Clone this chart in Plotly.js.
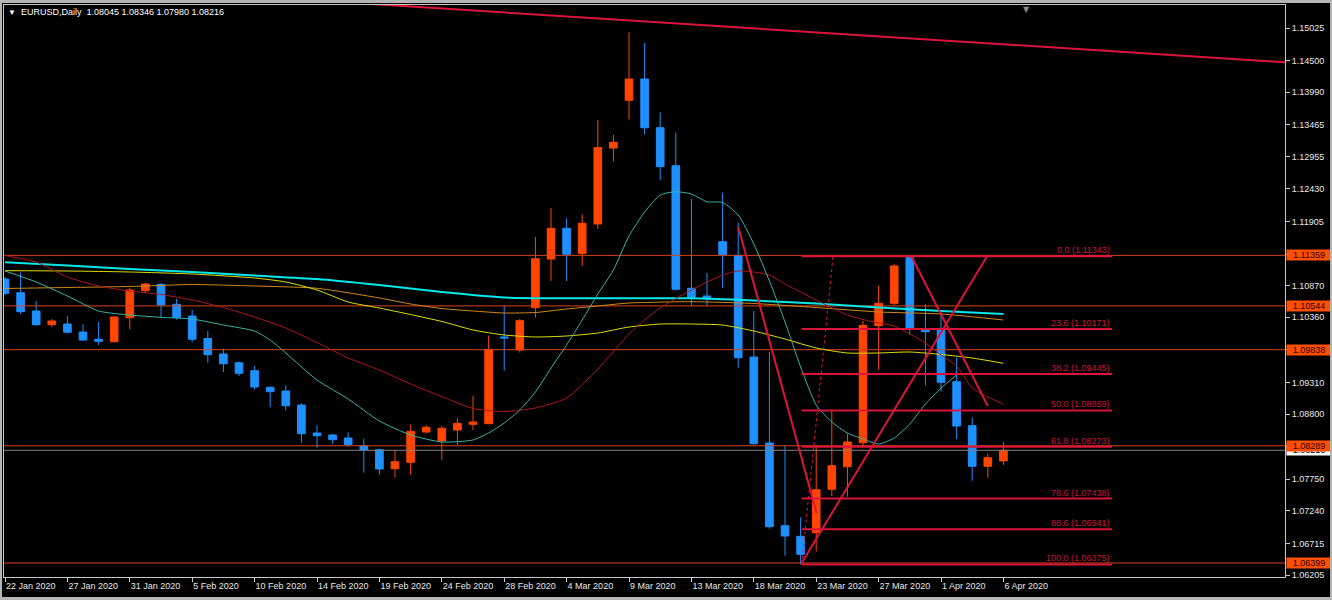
<!DOCTYPE html>
<html>
<head>
<meta charset="utf-8">
<script src="https://cdn.plot.ly/plotly-3.0.1.min.js"></script>
<style>
  html, body { margin:0; padding:0; background:#000; }
  #wrap { position:relative; width:1332px; height:600px; }
  #chart { width:1332px; height:600px; }
  #frame { position:absolute; left:0; top:0; width:1332px; height:600px; box-sizing:border-box;
           border-style:solid; border-color:#b4b4b4; border-width:3px 2px 3px 2px; pointer-events:none; }
</style>
</head>
<body>
<div id="wrap"><div id="chart"></div><div id="frame"></div></div>
<script>
// ---- Data (EURUSD Daily) ----
const symbolName = 'EURUSD,Daily';
const dates = ['22 Jan 2020','23 Jan 2020','24 Jan 2020','26 Jan 2020','27 Jan 2020','28 Jan 2020','29 Jan 2020','30 Jan 2020','31 Jan 2020','2 Feb 2020',
 '3 Feb 2020','4 Feb 2020','5 Feb 2020','6 Feb 2020','7 Feb 2020','9 Feb 2020','10 Feb 2020','11 Feb 2020','12 Feb 2020','13 Feb 2020',
 '14 Feb 2020','16 Feb 2020','17 Feb 2020','18 Feb 2020','19 Feb 2020','20 Feb 2020','21 Feb 2020','23 Feb 2020','24 Feb 2020','25 Feb 2020',
 '26 Feb 2020','27 Feb 2020','28 Feb 2020','1 Mar 2020','2 Mar 2020','3 Mar 2020','4 Mar 2020','5 Mar 2020','6 Mar 2020','8 Mar 2020',
 '9 Mar 2020','10 Mar 2020','11 Mar 2020','12 Mar 2020','13 Mar 2020','15 Mar 2020','16 Mar 2020','17 Mar 2020','18 Mar 2020','19 Mar 2020',
 '20 Mar 2020','22 Mar 2020','23 Mar 2020','24 Mar 2020','25 Mar 2020','26 Mar 2020','27 Mar 2020','29 Mar 2020','30 Mar 2020','31 Mar 2020',
 '1 Apr 2020','2 Apr 2020','3 Apr 2020','5 Apr 2020','6 Apr 2020'];
const openP = [
 1.10978,1.10757,1.10462,1.10241,1.10252,1.10123,1.10006,1.09967,1.10354,1.10789,
 1.10892,1.10570,1.10381,1.10019,1.09769,1.09628,1.09499,1.09232,1.09172,1.08946,
 1.08495,1.08463,1.08414,1.08290,1.08226,1.07919,1.08022,1.08511,1.08366,1.08543,
 1.08635,1.08645,1.10043,1.09833,1.10515,1.11300,1.11795,1.11389,1.11865,1.13090,
 1.13859,1.14203,1.13417,1.12805,1.10828,1.10704,1.11579,1.11360,1.09720,1.08334,
 1.07000,1.06829,1.06887,1.07587,1.07951,1.08338,1.10225,1.10586,1.11330,1.10167,
 1.10156,1.09322,1.08613,1.07958,1.08045];
const highP = [
 1.11010,1.11086,1.10623,1.10333,1.10381,1.10252,1.10289,1.10381,1.10838,1.10918,
 1.10909,1.10660,1.10478,1.10139,1.09854,1.09651,1.09575,1.09248,1.09264,1.08974,
 1.08619,1.08474,1.08506,1.08403,1.08242,1.08216,1.08635,1.08624,1.08613,1.08732,
 1.09091,1.10064,1.10543,1.10333,1.11655,1.12123,1.11957,1.12021,1.13542,1.13300,
 1.14956,1.14783,1.13666,1.13337,1.12268,1.11075,1.12369,1.11886,1.10462,1.09806,
 1.08290,1.07136,1.08290,1.08866,1.08490,1.10301,1.10870,1.11220,1.11343,1.10570,
 1.10478,1.09715,1.08742,1.08161,1.08346];
const lowP = [
 1.10720,1.10409,1.10225,1.10199,1.10102,1.09978,1.09914,1.09957,1.10167,1.10747,
 1.10365,1.10325,1.09957,1.09628,1.09478,1.09414,1.09193,1.08909,1.08861,1.08338,
 1.08258,1.08322,1.08274,1.07855,1.07822,1.07781,1.07822,1.08487,1.08059,1.08301,
 1.08543,1.08635,1.09499,1.09790,1.10354,1.10946,1.10946,1.11188,1.11784,1.12869,
 1.13553,1.13311,1.12574,1.10792,1.10547,1.10547,1.10838,1.09548,1.08309,1.06952,
 1.06516,1.06375,1.06584,1.07479,1.07468,1.08264,1.09515,1.10559,1.10075,1.09257,
 1.09161,1.08398,1.07726,1.07774,1.07980];
const closeP = [
 1.10747,1.10451,1.10241,1.10301,1.10119,1.09994,1.09973,1.10365,1.10801,1.10897,
 1.10559,1.10360,1.10006,1.09757,1.09612,1.09457,1.09236,1.09161,1.08935,1.08484,
 1.08451,1.08387,1.08306,1.08221,1.07914,1.08032,1.08522,1.08587,1.08571,1.08651,
 1.08672,1.09844,1.10027,1.10306,1.11305,1.11795,1.11376,1.11876,1.13098,1.13182,
 1.14203,1.13417,1.12789,1.10812,1.10683,1.10676,1.11370,1.09709,1.08322,1.06984,
 1.06834,1.06539,1.07580,1.07968,1.08350,1.10231,1.10586,1.11188,1.10183,1.10128,
 1.09312,1.08608,1.07958,1.08097,1.08216];

// Moving averages (bar index, price)
const maTealX = [0,2,4,6,8,10,12,14,16,17,18,20,22,24,26,28,30,31,32,33,34,35,36,37,38,39,40,41,42,43,44,45,46,47,48,49,50,51,52,53,54,55,56,57,58,59,60,61];
const maTealY = [1.11107,1.10930,1.10704,1.10462,1.10397,1.10360,1.10333,1.10236,1.10139,1.09994,1.09785,1.09349,1.09043,1.08688,1.08463,1.08350,1.08382,
 1.08495,1.08656,1.08866,1.09156,1.09543,1.09914,1.10317,1.10736,1.11123,1.11671,1.12058,1.12332,1.12386,1.12348,1.12224,1.12211,1.12010,1.11542,1.10946,1.10285,
 1.09559,1.08946,1.08672,1.08495,1.08398,1.08317,1.08414,1.08640,1.08962,1.09220,1.09430];
const maRedX = [0,2,4,6,8,10,12,14,16,18,20,22,24,26,28,30,32,34,36,38,40,41,42,44,46,47,48,49,50,51,52,54,55,56,57,58,59,60,61,62,63,64];
const maRedY = [1.11357,1.11252,1.11010,1.10865,1.10784,1.10728,1.10639,1.10518,1.10365,1.10188,1.09954,1.09704,1.09511,1.09285,1.09083,1.08890,1.08841,1.08898,1.09059,1.09527,1.10091,
 1.10317,1.10510,1.10801,1.11042,1.11107,1.11091,1.11042,1.10897,1.10768,1.10639,
 1.10397,1.10325,1.10268,1.10220,1.10091,1.09946,1.09753,1.09575,1.09220,1.09075,1.08958];
const maCyanX = [0,4,8,12,16,20,24,28,32,36,40,44,48,52,56,60,64];
const maCyanY = [1.11247,1.11196,1.11139,1.11091,1.11034,1.10978,1.10881,1.10768,1.10680,1.10667,1.10667,1.10667,1.10631,1.10583,1.10518,1.10462,1.10414];
const maYellowX = [0,4,8,12,16,18,20,22,24,26,28,30,32,34,36,38,40,42,44,46,48,50,52,54,56,58,60,62,64];
const maYellowY = [1.11112,1.11107,1.11091,1.11059,1.10994,1.10930,1.10801,1.10607,1.10510,1.10405,1.10293,1.10156,1.10075,1.10043,1.10059,1.10107,1.10204,1.10252,1.10252,1.10236,1.10139,1.10010,1.09865,1.09785,1.09785,1.09801,1.09761,1.09704,1.09619];
const maOrangeX = [0,4,8,12,16,20,24,26,28,30,32,34,36,38,40,44,48,52,56,60,64];
const maOrangeY = [1.10825,1.10841,1.10857,1.10889,1.10865,1.10828,1.10672,1.10575,1.10502,1.10462,1.10430,1.10438,1.10494,1.10543,1.10591,1.10612,1.10583,1.10518,1.10446,1.10414,1.10317];

// Horizontal support / resistance levels
const srLevels = [1.11359, 1.10544, 1.09838, 1.08289, 1.06399];
// Fibonacci retracement
const fibLevels = ['0.0','23.6','38.2','50.0','61.8','78.6','88.6','100.0'];
const fibPrices = [1.11343,1.10171,1.09445,1.08859,1.08273,1.07438,1.06941,1.06375];
const fibX = [51.07, 70.96];
const fibAnchorX = [51.07, 53.08];
const fibAnchorY = [1.06375, 1.11343];
// Trend lines (bar index, price)
const topLineX = [20, 82.1];      const topLineY = [1.15468, 1.14472];
const trendAX = [47.0, 52.03];    const trendAY = [1.11821, 1.07200];
const trendBX = [51.07, 63.0];    const trendBY = [1.06399, 1.11365];
const trendCX = [58.06, 63.0];    const trendCY = [1.11365, 1.08930];
// Axis ticks
const yTicks = [1.15025,1.14500,1.13990,1.13465,1.12955,1.12430,1.11905,1.11380,1.10870,1.10360,1.09835,1.09310,1.08800,1.08275,1.07750,1.07240,1.06715,1.06205];
const xTickStep = 4;

// ---- Build ----
const idx = dates.map((d, i) => i);
const xTickVals = idx.filter(i => i % xTickStep === 0);
const xTickText = xTickVals.map(i => dates[i]);
const fmt = v => v.toFixed(5);
const n = closeP.length - 1;
const bid = closeP[n];
const X0 = -5, X1 = 90;
const FONT = 'Liberation Sans, Arial, sans-serif';

const crimson = '#DC143C';
const srColor = '#D8441C';
const traces = [];
traces.push({
  type:'candlestick', x: idx, open: openP, high: highP, low: lowP, close: closeP,
  increasing:{line:{color:'#FF4500', width:1}, fillcolor:'#FF4500'},
  decreasing:{line:{color:'#1E90FF', width:1}, fillcolor:'#1E90FF'},
  whiskerwidth:0, hoverinfo:'skip', showlegend:false
});
// bid line
traces.push({type:'scatter', mode:'lines', x:[X0,X1], y:[bid,bid], line:{color:'#808080', width:1}, hoverinfo:'skip'});
// S/R lines
srLevels.forEach(p => traces.push({type:'scatter', mode:'lines', x:[X0,X1], y:[p,p], line:{color:srColor, width:1}, hoverinfo:'skip'}));
// MAs
traces.push({type:'scatter', mode:'lines', x:maOrangeX, y:maOrangeY, line:{color:'#D08A1E', width:1, shape:'spline', smoothing:0.6}, hoverinfo:'skip'});
traces.push({type:'scatter', mode:'lines', x:maYellowX, y:maYellowY, line:{color:'#E0E000', width:1, shape:'spline', smoothing:0.6}, hoverinfo:'skip'});
traces.push({type:'scatter', mode:'lines', x:maCyanX, y:maCyanY, line:{color:'#00E8E8', width:2, shape:'spline', smoothing:0.6}, hoverinfo:'skip'});
traces.push({type:'scatter', mode:'lines', x:maRedX, y:maRedY, line:{color:'#B01818', width:1, shape:'spline', smoothing:0.6}, hoverinfo:'skip'});
traces.push({type:'scatter', mode:'lines', x:maTealX, y:maTealY, line:{color:'#3AB4A4', width:1, shape:'spline', smoothing:0.6}, hoverinfo:'skip'});
// Fib levels
fibPrices.forEach(p => traces.push({type:'scatter', mode:'lines', x:fibX, y:[p,p], line:{color:crimson, width:2}, hoverinfo:'skip'}));
traces.push({type:'scatter', mode:'lines', x:fibAnchorX, y:fibAnchorY, line:{color:crimson, width:1, dash:'dot'}, hoverinfo:'skip'});
// trend lines
[[topLineX, topLineY],[trendAX, trendAY],[trendBX, trendBY],[trendCX, trendCY]].forEach(([xs, ys]) =>
  traces.push({type:'scatter', mode:'lines', x:xs, y:ys, line:{color:crimson, width:2}, hoverinfo:'skip'}));

const annotations = [];
fibLevels.forEach((lv, i) => annotations.push({
  xref:'x', yref:'y', x: fibX[1], y: fibPrices[i], xanchor:'right', yanchor:'bottom', yshift:-1,
  text: lv + ' (' + fmt(fibPrices[i]) + ')', showarrow:false,
  font:{family:FONT, size:9, color:'#C8143C'}
}));
// bid label (white) first, then S/R labels on top
annotations.push({xref:'paper', yref:'y', x:1, y:bid, xanchor:'left', xshift:1, text:fmt(bid), showarrow:false,
  bgcolor:'#FFFFFF', width:44, height:10, borderpad:0, font:{family:FONT, size:9, color:'#000'}});
srLevels.forEach(p => annotations.push({xref:'paper', yref:'y', x:1, y:p, xanchor:'left', xshift:1, text:fmt(p), showarrow:false,
  bgcolor:'#FF4F00', width:44, height:10, borderpad:0, font:{family:FONT, size:9, color:'#2a0000'}}));
// chart shift marker
annotations.push({xref:'x', yref:'paper', x:65.5, y:1, yanchor:'top', yshift:2, text:'▼', showarrow:false,
  font:{family:'DejaVu Sans', size:8, color:'#8c8c8c'}});

const layout = {
  width:1332, height:600,
  margin:{l:4, r:47, t:5, b:23, pad:0},
  paper_bgcolor:'#000', plot_bgcolor:'#000',
  showlegend:false,
  title:{text:'<span style="font-size:8px">▼</span>  ' + symbolName + '  ' + [openP[n], highP[n], lowP[n], closeP[n]].map(fmt).join(' '),
         xref:'container', yref:'container', x:8/1332, xanchor:'left', y:1-12/600, yanchor:'middle',
         font:{family:FONT, size:9, color:'#FFFFFF'}},
  xaxis:{range:[-0.064, 82.05], tickvals:xTickVals, ticktext:xTickText, showgrid:false, zeroline:false,
         showline:true, mirror:true, linecolor:'#C8C8C8', linewidth:1, ticks:'outside', ticklen:4, tickcolor:'#C8C8C8',
         ticklabelposition:'outside right',
         tickfont:{family:FONT, size:9, color:'#E8E8E8'},
         rangeslider:{visible:false}, fixedrange:true},
  yaxis:{side:'right', range:[1.06173, 1.15396], tickvals:yTicks, ticktext:yTicks.map(fmt), showgrid:false, zeroline:false,
         showline:true, mirror:true, linecolor:'#C8C8C8', linewidth:1, ticks:'outside', ticklen:4, tickcolor:'#C8C8C8',
         tickfont:{family:FONT, size:9, color:'#E8E8E8'}, fixedrange:true},
  annotations: annotations
};
Plotly.newPlot('chart', traces, layout, {displayModeBar:false, staticPlot:true});
</script>
</body>
</html>
